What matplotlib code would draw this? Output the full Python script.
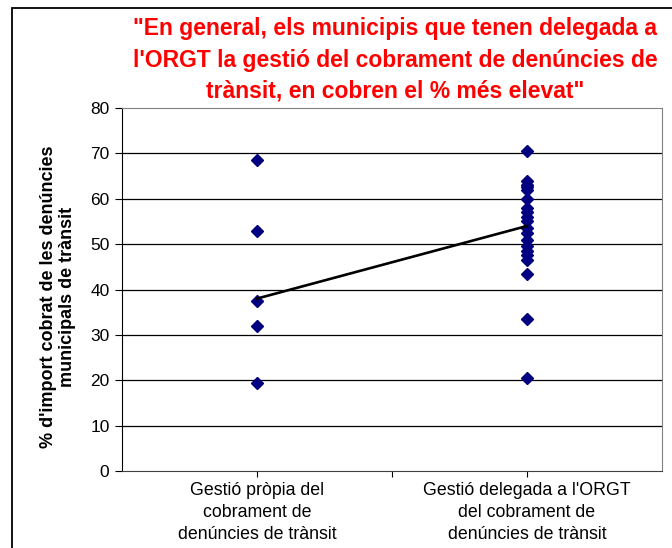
import matplotlib
matplotlib.use('Agg')
import matplotlib.pyplot as plt
from matplotlib.patches import Rectangle

plt.rcParams['font.family'] = ['Liberation Sans', 'DejaVu Sans']

# data
categories = ['Gestió pròpia del\ncobrament de\ndenúncies de trànsit',
              "Gestió delegada a l'ORGT\ndel cobrament de\ndenúncies de trànsit"]
own_values = [68.5, 53, 37.5, 32, 19.5]
delegated_values = [70.5, 64, 63, 62.5, 62, 60, 58, 57, 56, 55, 53.5, 52.5,
                    51, 49.5, 48.5, 47.5, 46.5, 43.5, 33.5, 20.5]
trend_values = [38, 54]
yticks = [0, 10, 20, 30, 40, 50, 60, 70, 80]

title = ('"En general, els municipis que tenen delegada a\n'
         "l'ORGT la gestió del cobrament de denúncies de\n"
         'trànsit, en cobren el % més elevat"')
ylabel = "% d'import cobrat de les denúncies\nmunicipals de trànsit"

W, H = 672, 548
fig = plt.figure(figsize=(W / 100, H / 100), dpi=100)
ax = fig.add_axes([122 / W, (H - 471) / H, (662 - 122) / W, (471 - 108) / H])

navy = '#000080'
ax.plot([1] * len(own_values), own_values, 'D', color=navy, ms=6, zorder=3)
ax.plot([2] * len(delegated_values), delegated_values, 'D', color=navy, ms=6, zorder=3)
ax.plot([1, 2], trend_values, color='black', lw=1.9, zorder=4)

ax.set_xlim(0.5, 2.5)
ax.set_ylim(0, 80)
ax.set_yticks(yticks)
ax.set_xticks([1, 1.5, 2])
ax.set_xticklabels([categories[0], '', categories[1]], fontsize=12.8,
                   linespacing=1.38)
ax.tick_params(axis='y', direction='out', length=5, labelsize=12.5, pad=4)
ax.tick_params(axis='x', direction='out', length=4, pad=4)

for v in yticks[1:-1]:
    ax.axhline(v, color='black', lw=0.9, zorder=1)

for s in ['top', 'right']:
    ax.spines[s].set_color('#808080')
ax.spines['left'].set_color('black')
ax.spines['bottom'].set_color('#404040')

ax.set_ylabel(ylabel, fontsize=13, fontweight='bold', labelpad=10,
              linespacing=1.2)
ax.yaxis.label.set_y(0.48)

fig.text(395 / W, 1 - 60 / H, title, color='#ff0000', fontsize=16.5,
         fontweight='bold', ha='center', va='center', linespacing=1.45)

fig.patches.append(Rectangle((12 / W, -0.1), 2, 1 - 8 / H + 0.1,
                             transform=fig.transFigure, fill=False,
                             lw=1.3, edgecolor='black'))

fig.savefig('out.png', dpi=100)
